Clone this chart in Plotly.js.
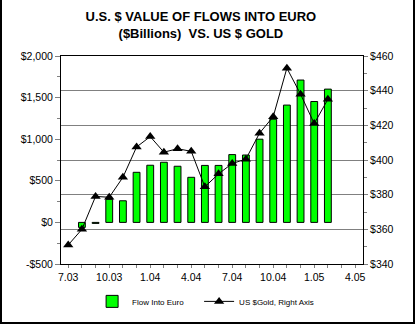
<!DOCTYPE html>
<html>
<head>
<meta charset="utf-8">
<script src="https://cdn.plot.ly/plotly-3.0.1.min.js"></script>
<style>
  html, body { margin: 0; padding: 0; background: #ffffff; }
  #chart { position: absolute; left: 0; top: 0; width: 416px; height: 324px; }
  #frame { position: absolute; left: 0; top: 0; width: 415px; height: 324px; box-sizing: border-box;
           border-left: 2px solid #000; border-right: 2px solid #000; border-bottom: 2px solid #000; pointer-events: none; }
</style>
</head>
<body>
<div id="chart"></div>
<div id="frame"></div>
<script>
// ---- data ----
var months = ['7.03','8.03','9.03','10.03','11.03','12.03','1.04','2.04','3.04','4.04','5.04','6.04',
              '7.04','8.04','9.04','10.04','11.04','12.04','1.05','2.05','3.05','4.05'];
var flowsIntoEuro = [null, -60, -12, 277, 260, 602, 687, 723, 675, 542, 685, 685,
                     815, 810, 1000, 1240, 1410, 1711, 1453, 1602, null, null];
var goldUSD = [351, 360, 379, 378.5, 390, 407.5, 413.5, 404.5, 406.5, 405, 384.5, 392,
               398, 400.5, 415.5, 425, 453, 438, 421, 435, null, null];
var leftTickVals = [-500, 0, 500, 1000, 1500, 2000];
var leftTickText = ['-$500', '$0', '$500', '$1,000', '$1,500', '$2,000'];

var xIdx = months.map(function (m, i) { return i; });
var xTickText = months.map(function (m, i) { return i % 3 === 0 ? m : ''; });

var FONT = 'Liberation Sans, Arial, sans-serif';
var xRange = [-0.53, 21.57];
var lRange = [-500, 2000];
var rRange = [340, 460];
var TICKC = '#808080';

var traces = [
  {
    type: 'bar', name: 'Flow Into Euro', x: xIdx, y: flowsIntoEuro,
    xaxis: 'x', yaxis: 'y', width: 0.5, legendwidth: 62,
    marker: { color: '#00ff00', line: { color: '#000000', width: 1 } }
  },
  {
    type: 'scatter', mode: 'lines+markers', name: 'US $Gold, Right Axis', x: xIdx, y: goldUSD,
    xaxis: 'x', yaxis: 'y2', legendwidth: 100,
    line: { color: '#000000', width: 1 },
    marker: { symbol: 'triangle-up', size: 9, color: '#000000' }
  }
];

var layout = {
  width: 416, height: 324,
  margin: { l: 61, r: 53, t: 56, b: 60, pad: 0, autoexpand: false },
  paper_bgcolor: '#ffffff', plot_bgcolor: '#ffffff',
  font: { family: FONT, size: 10.5, color: '#000000' },
  showlegend: true,
  title: {
    text: '<b>U.S. $ VALUE OF FLOWS INTO EURO<br>($Billions)\u00a0 VS. US $ GOLD</b>',
    font: { family: FONT, size: 13, color: '#000000' },
    x: 0.483, xref: 'container', xanchor: 'center',
    y: 0.935, yref: 'container', yanchor: 'top'
  },
  xaxis: {
    type: 'linear', range: xRange, tickmode: 'array', tickvals: xIdx, ticktext: xTickText,
    ticks: 'outside', ticklen: 3, tickcolor: TICKC, tickwidth: 1,
    showline: true, linecolor: '#000000', linewidth: 1, mirror: true,
    showgrid: false, zeroline: false, tickfont: { size: 10.5 }
  },
  xaxis2: {
    type: 'linear', range: xRange, overlaying: 'x', anchor: 'y', side: 'bottom',
    tickmode: 'array', tickvals: xIdx, ticks: 'inside', ticklen: 3, tickcolor: TICKC,
    showticklabels: false, showline: false, showgrid: false, zeroline: false
  },
  yaxis: {
    range: lRange, tickmode: 'array', tickvals: leftTickVals, ticktext: leftTickText,
    ticks: 'outside', ticklen: 5, tickcolor: TICKC,
    minor: { tickmode: 'linear', tick0: 0, dtick: 250, ticks: 'outside', ticklen: 3, tickcolor: TICKC },
    showline: true, linecolor: '#000000', linewidth: 1,
    showgrid: false, zeroline: false, tickfont: { size: 10.5 }
  },
  yaxis3: {
    range: lRange, overlaying: 'y', anchor: 'x', side: 'left',
    tickmode: 'linear', tick0: 0, dtick: 500, ticks: 'inside', ticklen: 5, tickcolor: TICKC,
    minor: { tickmode: 'linear', tick0: 0, dtick: 250, ticks: 'inside', ticklen: 3, tickcolor: TICKC },
    showticklabels: false, showline: false, showgrid: false, zeroline: false
  },
  yaxis2: {
    range: rRange, overlaying: 'y', anchor: 'x', side: 'right',
    tickmode: 'linear', tick0: 340, dtick: 20, tickprefix: '$',
    ticks: 'outside', ticklen: 4, tickcolor: TICKC,
    minor: { tickmode: 'linear', tick0: 340, dtick: 10, ticks: 'outside', ticklen: 3, tickcolor: TICKC },
    showline: true, linecolor: '#000000', linewidth: 1,
    showgrid: true, gridcolor: '#808080', gridwidth: 1, zeroline: false, tickfont: { size: 10.5 }
  },
  yaxis4: {
    range: rRange, overlaying: 'y', anchor: 'x', side: 'right',
    tickmode: 'linear', tick0: 340, dtick: 20, ticks: 'inside', ticklen: 3, tickcolor: TICKC,
    showticklabels: false, showline: false, showgrid: false, zeroline: false
  },
  legend: {
    orientation: 'h', x: 0.103, xanchor: 'left', y: -0.11, yanchor: 'top',
    font: { family: FONT, size: 8, color: '#000000' },
    bgcolor: 'rgba(0,0,0,0)', borderwidth: 0, entrywidthmode: 'pixels',
    traceorder: 'normal'
  },
  bargap: 0.5
};

Plotly.newPlot('chart', traces, layout, { staticPlot: true, displayModeBar: false });
</script>
</body>
</html>
